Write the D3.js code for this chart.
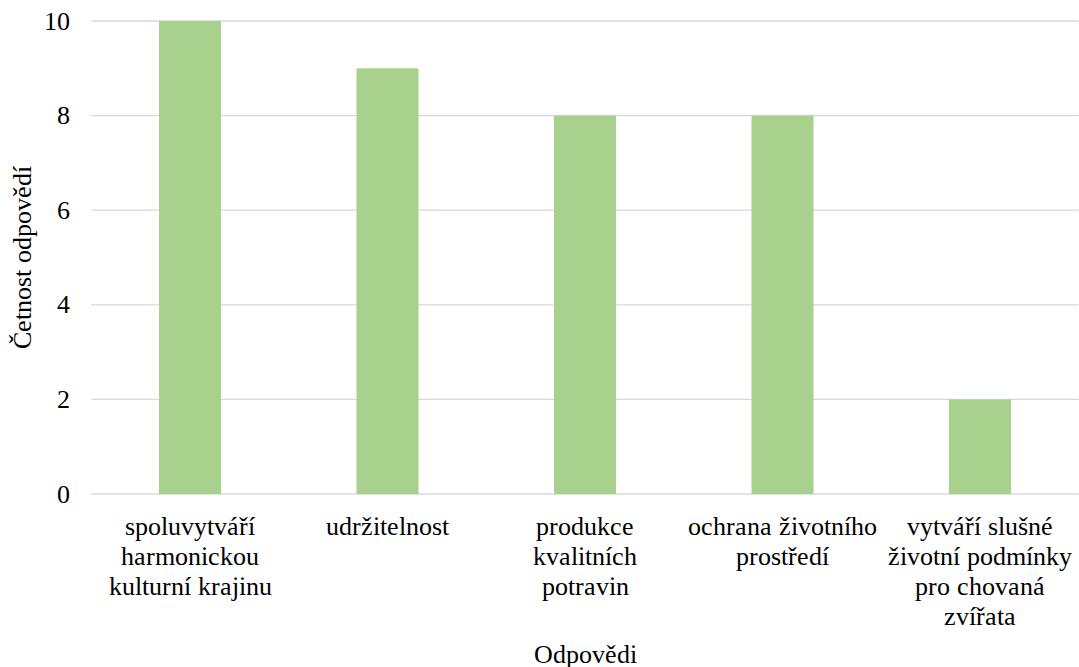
<!DOCTYPE html>
<html>
<head>
<meta charset="utf-8">
<script src="https://cdn.jsdelivr.net/npm/d3@7/dist/d3.min.js"></script>
<style>
  @font-face {
    font-family: "ChartSerif";
    src: local("Liberation Serif"), local("LiberationSerif"), local("Times New Roman"), local("Tinos");
  }
  html, body { margin: 0; padding: 0; background: #ffffff; }
  svg { display: block; }
</style>
</head>
<body>
<svg id="chart" width="1079" height="667"></svg>
<script>
// Category labels, already split into display lines
const categories = [
  ["spoluvytváří", "harmonickou", "kulturní krajinu"],
  ["udržitelnost"],
  ["produkce", "kvalitních", "potravin"],
  ["ochrana životního", "prostředí"],
  ["vytváří slušné", "životní podmínky", "pro chovaná", "zvířata"]
];
const counts = [10, 9, 8, 8, 2];
const yTicks = [0, 2, 4, 6, 8, 10];
const yTitle = "Četnost odpovědí";
const xTitle = "Odpovědi";

const FONT = "ChartSerif, 'Liberation Serif', serif";

const svg = d3.select("#chart");
const plotLeft = 91.25, plotRight = 1078.75, plotTop = 21, plotBottom = 494;

const x = d3.scaleBand()
  .domain(d3.range(categories.length))
  .range([plotLeft, plotRight])
  .paddingInner(0.686)
  .paddingOuter(0.343);

const y = d3.scaleLinear().domain([0, 10]).range([plotBottom, plotTop]);

// Horizontal gridlines
svg.append("g")
  .selectAll("line")
  .data(yTicks)
  .join("line")
  .attr("x1", plotLeft).attr("x2", plotRight)
  .attr("y1", d => y(d)).attr("y2", d => y(d))
  .attr("stroke", "#d9d9d9")
  .attr("stroke-width", 1.3);

// Bars
svg.append("g")
  .selectAll("rect")
  .data(counts)
  .join("rect")
  .attr("x", (d, i) => x(i))
  .attr("width", x.bandwidth())
  .attr("y", d => y(d))
  .attr("height", d => y(0) - y(d))
  .attr("fill", "#a9d18e");

const labels = svg.append("g")
  .attr("font-family", FONT)
  .style("font-family", FONT)
  .attr("font-size", 26)
  .attr("fill", "#000");

// Y tick labels
labels.append("g")
  .selectAll("text")
  .data(yTicks)
  .join("text")
  .attr("x", 70)
  .attr("y", d => y(d) + 8.5)
  .attr("text-anchor", "end")
  .text(d => d);

// Category labels (multi-line, centred under each bar)
const cat = labels.append("g")
  .selectAll("text")
  .data(categories)
  .join("text")
  .attr("text-anchor", "middle")
  .attr("x", (d, i) => x(i) + x.bandwidth() / 2)
  .attr("y", 535);
cat.selectAll("tspan")
  .data(d => d)
  .join("tspan")
  .attr("x", function () { return d3.select(this.parentNode).attr("x"); })
  .attr("dy", (d, i) => i === 0 ? 0 : 30)
  .text(d => d);

// Axis titles
labels.append("text")
  .attr("transform", `translate(31, ${(plotTop + plotBottom) / 2}) rotate(-90)`)
  .attr("text-anchor", "middle")
  .text(yTitle);

labels.append("text")
  .attr("x", (plotLeft + plotRight) / 2)
  .attr("y", 663)
  .attr("text-anchor", "middle")
  .text(xTitle);
</script>
</body>
</html>
